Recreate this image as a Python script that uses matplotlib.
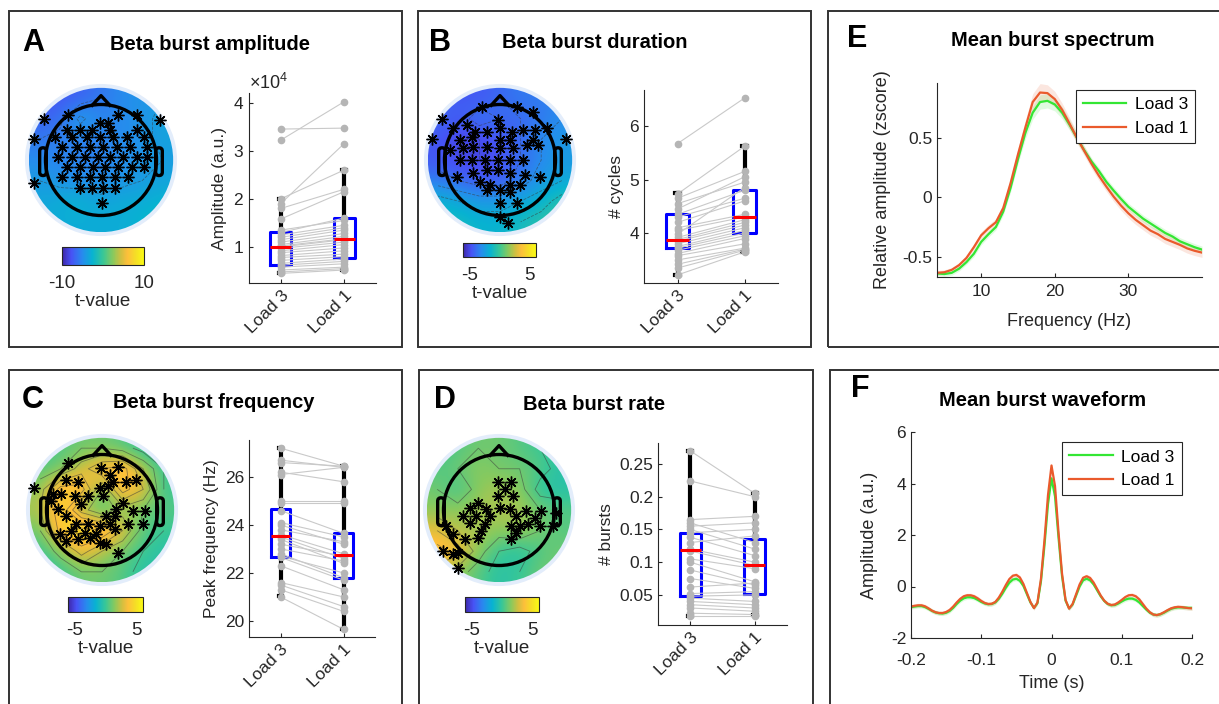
import numpy as np
import matplotlib
matplotlib.use('Agg')
import matplotlib.pyplot as plt
from matplotlib.colors import LinearSegmentedColormap, Normalize
from matplotlib.cm import ScalarMappable
from matplotlib.patches import Circle, Rectangle, FancyBboxPatch
from matplotlib.ticker import FuncFormatter

plt.rcParams['font.family'] = ['Liberation Sans', 'DejaVu Sans']
plt.rcParams['axes.unicode_minus'] = False
plt.rcParams['mathtext.fontset'] = 'custom'
plt.rcParams['mathtext.rm'] = 'Liberation Sans'

W, H = 1219, 704
DARK = '#262626'
GREEN = '#33e633'
ORANGE = '#ea5a2c'

parula = LinearSegmentedColormap.from_list('parula', [
    (0.00, (0.24, 0.15, 0.66)), (0.11, (0.28, 0.32, 0.96)), (0.25, (0.15, 0.55, 0.93)),
    (0.37, (0.03, 0.70, 0.82)), (0.50, (0.22, 0.78, 0.59)), (0.62, (0.53, 0.79, 0.37)),
    (0.72, (0.82, 0.75, 0.25)), (0.80, (0.99, 0.75, 0.23)), (0.90, (0.96, 0.87, 0.15)),
    (1.00, (0.98, 0.98, 0.08))])

# ---------------- paired data (one value per subject) ----------------
amp_load3 = [3.45, 3.22, 2.00, 1.90, 1.80, 1.58, 1.35, 1.30, 1.25, 1.20, 1.15, 1.10, 1.05, 1.02,
             1.00, 0.97, 0.92, 0.88, 0.82, 0.78, 0.72, 0.66, 0.62, 0.58, 0.52, 0.48, 0.45]
amp_load1 = [3.47, 4.02, 2.60, 3.15, 2.20, 2.15, 1.55, 1.60, 1.45, 1.40, 1.35, 1.28, 1.22, 1.17,
             1.15, 1.10, 1.05, 0.98, 0.92, 0.85, 0.80, 0.75, 0.70, 0.65, 0.58, 0.55, 0.52]
amp_box3 = [0.45, 0.62, 1.00, 1.32, 2.00]   # whislo, q1, median, q3, whishi (x1e4)
amp_box1 = [0.52, 0.78, 1.17, 1.60, 2.60]

dur_load3 = [5.67, 4.73, 4.65, 4.55, 4.45, 4.35, 4.30, 4.20, 4.10, 4.05, 3.98, 3.92,
             3.88, 3.85, 3.80, 3.75, 3.72, 3.68, 3.62, 3.58, 3.50, 3.42, 3.35, 3.22]
dur_load1 = [6.52, 5.62, 5.15, 4.95, 5.05, 4.80, 4.65, 4.60, 4.35, 4.30, 4.85, 4.25,
             4.20, 4.15, 4.10, 4.05, 4.00, 3.95, 3.90, 3.80, 3.72, 3.70, 3.68, 3.65]
dur_box3 = [3.22, 3.73, 3.88, 4.36, 4.74]
dur_box1 = [3.64, 4.00, 4.30, 4.81, 5.62]

freq_load3 = [27.2, 26.7, 26.6, 26.2, 26.1, 25.0, 24.9, 24.6, 24.1, 24.0, 23.8, 23.6,
              23.5, 23.4, 23.2, 23.0, 22.8, 22.7, 22.65, 22.3, 21.6, 21.5, 21.3, 21.0]
freq_load1 = [26.45, 26.4, 26.45, 25.8, 26.4, 25.0, 24.9, 23.65, 23.5, 23.2, 23.3, 22.8,
              22.6, 22.4, 22.7, 22.5, 21.8, 22.0, 21.7, 21.3, 21.0, 20.6, 20.4, 19.65]
freq_box3 = [21.05, 22.68, 23.52, 24.65, 27.2]
freq_box1 = [19.68, 21.8, 22.75, 23.66, 26.45]

rate_load3 = [0.270, 0.224, 0.165, 0.160, 0.155, 0.150, 0.145, 0.138, 0.130, 0.120, 0.117, 0.105,
              0.100, 0.088, 0.075, 0.062, 0.052, 0.048, 0.045, 0.040, 0.035, 0.030, 0.022, 0.018]
rate_load1 = [0.205, 0.200, 0.170, 0.130, 0.160, 0.120, 0.150, 0.110, 0.140, 0.100, 0.095, 0.090,
              0.070, 0.065, 0.060, 0.068, 0.055, 0.050, 0.040, 0.035, 0.030, 0.025, 0.020, 0.018]
rate_box3 = [0.017, 0.048, 0.118, 0.144, 0.270]
rate_box1 = [0.019, 0.051, 0.096, 0.136, 0.206]

conditions = ['Load 3', 'Load 1']

# ---------------- spectra ----------------
spec_freqs = np.arange(4, 41)
spec_load3 = [-0.64, -0.645, -0.635, -0.60, -0.545, -0.475, -0.375, -0.31, -0.25, -0.12,
              0.08, 0.32, 0.54, 0.71, 0.80, 0.81, 0.78, 0.71, 0.61, 0.50,
              0.395, 0.30, 0.22, 0.13, 0.056, -0.014, -0.08, -0.13, -0.18, -0.22,
              -0.26, -0.30, -0.33, -0.37, -0.395, -0.42, -0.44]
spec_load1 = [-0.635, -0.63, -0.61, -0.57, -0.51, -0.42, -0.32, -0.26, -0.21, -0.09,
              0.12, 0.36, 0.585, 0.80, 0.88, 0.875, 0.825, 0.735, 0.62, 0.50,
              0.39, 0.28, 0.18, 0.09, 0.005, -0.07, -0.135, -0.19, -0.235, -0.28,
              -0.31, -0.35, -0.375, -0.40, -0.43, -0.45, -0.465]
spec_sem3 = [0.02, 0.02, 0.02, 0.02, 0.02, 0.025, 0.025, 0.025, 0.025, 0.03,
             0.035, 0.04, 0.05, 0.055, 0.06, 0.06, 0.055, 0.05, 0.045, 0.04,
             0.035, 0.03, 0.03, 0.03, 0.03, 0.03, 0.03, 0.03, 0.03, 0.03,
             0.03, 0.03, 0.03, 0.03, 0.03, 0.03, 0.03]
spec_sem1 = [0.02, 0.02, 0.02, 0.02, 0.025, 0.025, 0.03, 0.03, 0.03, 0.035,
             0.04, 0.05, 0.06, 0.07, 0.075, 0.07, 0.065, 0.055, 0.05, 0.045,
             0.04, 0.04, 0.04, 0.04, 0.04, 0.04, 0.04, 0.04, 0.04, 0.04,
             0.04, 0.04, 0.04, 0.04, 0.04, 0.04, 0.04]

# ---------------- waveforms ----------------
wave_times = np.round(np.arange(-0.2, 0.2001, 0.005), 3)
wave_load3 = [-0.80, -0.78, -0.76, -0.76, -0.80, -0.87, -0.95, -1.01, -1.04, -1.05,
              -1.02, -0.95, -0.83, -0.68, -0.55, -0.46, -0.42, -0.42, -0.45, -0.52,
              -0.60, -0.66, -0.69, -0.68, -0.62, -0.48, -0.28, -0.05, 0.15, 0.27,
              0.30, 0.22, 0.02, -0.30, -0.62, -0.83, -0.65, 0.20, 1.60, 3.20,
              4.20, 3.50, 1.90, 0.40, -0.55, -0.85, -0.70, -0.35, 0.00, 0.24,
              0.30, 0.24, 0.08, -0.15, -0.38, -0.56, -0.68, -0.73, -0.72, -0.66,
              -0.58, -0.51, -0.47, -0.47, -0.52, -0.62, -0.76, -0.90, -1.02, -1.09,
              -1.11, -1.08, -1.02, -0.94, -0.87, -0.83, -0.81, -0.81, -0.82, -0.83,
              -0.83]
wave_load1 = [-0.78, -0.75, -0.73, -0.73, -0.77, -0.85, -0.94, -1.00, -1.03, -1.03,
              -0.99, -0.91, -0.78, -0.62, -0.48, -0.38, -0.34, -0.34, -0.38, -0.46,
              -0.56, -0.64, -0.68, -0.67, -0.60, -0.43, -0.20, 0.06, 0.29, 0.42,
              0.45, 0.35, 0.10, -0.25, -0.60, -0.84, -0.62, 0.30, 1.80, 3.55,
              4.70, 3.90, 2.10, 0.50, -0.52, -0.86, -0.68, -0.30, 0.08, 0.34,
              0.40, 0.33, 0.15, -0.10, -0.35, -0.55, -0.67, -0.72, -0.70, -0.62,
              -0.52, -0.41, -0.34, -0.33, -0.38, -0.50, -0.68, -0.86, -1.00, -1.09,
              -1.11, -1.07, -1.00, -0.92, -0.85, -0.81, -0.79, -0.80, -0.82, -0.84,
              -0.85]
wave_sem = 0.08

# ---------------- topographies (t-values, coarse grid, front row first) ----------------
topo_amp = [[-7.5, -7.5, -7, -6, -5, -4.5, -4],
            [-7, -6.5, -3.5, -5.5, -5, -4.5, -3.5],
            [-6, -5.5, -5.5, -5.5, -5, -4.5, -3.5],
            [-5, -5.5, -5.5, -5.5, -5, -4.5, -4],
            [-4, -4.5, -5, -5, -4.5, -4, -3.5],
            [-3.5, -3, -2.5, -3.5, -3, -3, -2.5],
            [-3, -3, -3, -3, -3, -2.5, -1.5]]
topo_dur = [[-4, -4.5, -4.5, -4, -3.5, -3.5, -3],
            [-4, -4.5, -3.5, -4, -4, -3.5, -3],
            [-4.5, -5, -5, -4.5, -4, -3, -2.5],
            [-4.5, -5, -5, -4.5, -4, -3, -2.5],
            [-3.5, -4, -4.5, -4.5, -3.5, -2.5, -2],
            [-1.5, -2, -2.5, -2.5, -2, -1.5, -0.5],
            [-1, -1, -1.5, -1.5, -1, -0.5, 0]]
topo_freq = [[0, 0.5, 1, 1, 0.5, -0.5, -1],
             [0.5, 1, 2.5, 4, 4.5, 2, 0],
             [1.5, 4.5, 4.5, 1, 4.5, 3, 0],
             [2, 5, 1.5, 0, 1.5, 1, 0.5],
             [1, 4.5, 5.5, 5, 3, 0.5, 0],
             [0, 1.5, 3.5, 2, 1, 0, -0.5],
             [-0.5, 0, 1, 1, 0.5, -0.5, -0.5]]
topo_rate = [[0, 0.5, 1, 1, 0.5, 0, -0.5],
             [0.5, 1, 1.5, 1, 1, 0.5, -0.5],
             [1, 0, 1.5, 2, 1.5, -0.5, -0.5],
             [1.5, 1.5, 2, 2, 2, 1, 0.5],
             [3, 2, 2, 1.5, 2, 1, 0.5],
             [4.5, 3.5, 1.5, 0, -0.5, 0.5, 1],
             [2, 1.5, 0.5, -0.5, 0, 1, 1]]

# significant electrodes (head radius = 1, nose up)
sig_amp_x = [-1.02, -1.20, -1.20, 1.07, -0.59, 0.31, 0.64, -0.02, 0.13, -0.62, -0.38, -0.17, 0.16, 0.64,
             -0.83, -0.53, -0.26, -0.02, 0.22, 0.46, 0.77, -0.71, -0.44, -0.20, 0.04, 0.28, 0.52, 0.83,
             -0.77, -0.53, -0.29, -0.05, 0.16, 0.40, 0.64, 0.83, -0.62, -0.38, -0.14, 0.07, 0.31, 0.55,
             0.77, -0.71, -0.44, -0.20, 0.01, 0.25, 0.49, -0.38, -0.17, 0.04, 0.25, 0.01]
sig_amp_y = [0.73, 0.38, -0.42, 0.72, 0.81, 0.81, 0.81, 0.66, 0.66, 0.54, 0.54, 0.54, 0.54, 0.54,
             0.42, 0.42, 0.42, 0.42, 0.42, 0.42, 0.42, 0.24, 0.24, 0.24, 0.24, 0.24, 0.24, 0.24,
             0.06, 0.06, 0.06, 0.06, 0.06, 0.06, 0.06, 0.06, -0.12, -0.12, -0.12, -0.12, -0.12, -0.12,
             -0.12, -0.30, -0.30, -0.30, -0.30, -0.30, -0.30, -0.51, -0.51, -0.51, -0.51, -0.78]
sig_dur_x = [-1.04, -1.23, 1.19, -0.33, 0.30, 0.60, -0.03, -0.84, -0.60, -0.45, -0.24, 0.00, 0.21, 0.42,
             0.63, 0.84, -0.72, -0.51, 0.00, 0.18, 0.60, -0.90, -0.66, -0.48, -0.24, 0.00, 0.24, 0.48,
             0.69, -0.72, -0.51, -0.27, -0.03, 0.18, 0.42, -0.78, -0.48, -0.24, -0.03, 0.18, 0.45, 0.72,
             -0.36, -0.18, 0.18, 0.36, -0.24, 0.00, 0.18, 0.00, 0.30, 0.00, 0.15]
sig_dur_y = [0.73, 0.38, 0.38, 0.96, 0.96, 0.87, 0.72, 0.57, 0.63, 0.51, 0.51, 0.57, 0.51, 0.54,
             0.54, 0.57, 0.36, 0.42, 0.36, 0.36, 0.36, 0.18, 0.21, 0.24, 0.24, 0.21, 0.21, 0.27,
             0.27, 0.00, 0.00, 0.00, 0.00, 0.00, 0.00, -0.30, -0.24, -0.18, -0.18, -0.24, -0.27, -0.30,
             -0.39, -0.45, -0.45, -0.45, -0.54, -0.54, -0.57, -0.78, -0.78, -1.02, -1.14]
sig_freq_x = [-1.22, -0.61, -0.01, 0.29, -0.64, -0.43, 0.14, 0.44, 0.62, -0.04, 0.11, 0.20, -0.88, -0.73,
              -0.49, -0.25, 0.02, 0.38, -0.91, -0.79, -0.37, 0.56, 0.77, -0.64, 0.26, 0.08, 0.23, -0.46,
              -0.25, -0.04, 0.14, 0.47, 0.74, -0.76, -0.55, -0.31, -0.10, 0.23, -0.64, -0.43, -0.22, -0.04,
              0.08, 0.29]
sig_freq_y = [0.40, 0.84, 0.75, 0.77, 0.54, 0.51, 0.63, 0.51, 0.54, 0.40, 0.43, 0.51, 0.28, 0.28,
              0.25, 0.25, 0.25, 0.13, 0.16, 0.01, 0.10, -0.02, -0.02, -0.11, 0.01, -0.11, -0.11, -0.26,
              -0.26, -0.29, -0.26, -0.26, -0.26, -0.44, -0.38, -0.41, -0.44, -0.35, -0.56, -0.53, -0.50, -0.59,
              -0.62, -0.77]
sig_rate_x = [-0.02, 0.22, 0.10, -0.02, 0.25, -0.38, -0.53, -0.23, -0.65, -0.41, -0.17, -0.53, -0.26, 0.01,
              0.19, 0.31, 0.49, 0.76, 1.03, 0.64, -0.32, -0.38, 0.22, 0.37, 0.52, 0.73, 0.97, 0.31,
              0.22, -0.95, -0.83, -0.62, -1.01, -0.83, -0.74, -0.74]
sig_rate_y = [0.51, 0.51, 0.37, 0.25, 0.25, 0.13, 0.04, 0.01, -0.11, -0.11, -0.11, -0.23, -0.26, 0.04,
              0.01, -0.11, -0.02, -0.02, -0.05, -0.14, -0.38, -0.50, -0.29, -0.29, -0.26, -0.29, -0.29, -0.41,
              -0.53, -0.29, -0.44, -0.53, -0.74, -0.80, -0.77, -1.04]


def px_axes(fig, x0, y0, x1, y1):
    return fig.add_axes([x0 / W, 1 - y1 / H, (x1 - x0) / W, (y1 - y0) / H])


def fig_text(fig, x, y, s, **kw):
    fig.text(x / W, 1 - y / H, s, ha='center', va='center', **kw)


def style_axes(ax):
    for side in ('top', 'right'):
        ax.spines[side].set_visible(False)
    for side in ('left', 'bottom'):
        ax.spines[side].set_color(DARK)
        ax.spines[side].set_linewidth(0.8)
    ax.tick_params(direction='in', length=3, width=0.8, colors=DARK, labelsize=12.5)


def draw_topo(fig, cx, cy, grid, vmin, vmax, step, sx, sy, cbar_box, cbar_ticks):
    r_px = 55.5
    ax = px_axes(fig, cx - 1.4 * r_px, cy - 1.4 * r_px, cx + 1.4 * r_px, cy + 1.4 * r_px)
    ax.set_xlim(-1.4, 1.4)
    ax.set_ylim(-1.4, 1.4)
    ax.set_aspect('equal')
    ax.axis('off')
    grid = np.array(grid, dtype=float)
    ax.add_patch(Circle((0, 0), 1.37, fc='#e3edfb', ec='none', zorder=0))
    disk = Circle((0, 0), 1.3, transform=ax.transData)
    im = ax.imshow(grid, extent=(-1.3, 1.3, -1.3, 1.3), origin='upper', cmap=parula,
                   vmin=vmin, vmax=vmax, interpolation='bicubic', zorder=1)
    im.set_clip_path(disk)
    n = grid.shape[0]
    centres = -1.3 + (np.arange(n) + 0.5) * 2.6 / n
    cs = ax.contour(centres, centres, np.flipud(grid), levels=np.arange(vmin, vmax, step),
                    colors='#3a3a3a', linewidths=0.6, alpha=0.55, zorder=2)
    cs.set_clip_path(disk)
    ax.add_patch(Circle((0, 0), 1.0, fc='none', ec='k', lw=2.4, zorder=3))
    ax.plot([-0.16, 0, 0.16], [0.985, 1.16, 0.985], color='k', lw=2.4, zorder=3)
    for side in (-1, 1):
        x0 = 0.985 if side > 0 else -1.105
        ax.add_patch(FancyBboxPatch((x0, -0.28), 0.12, 0.5,
                                    boxstyle='round,pad=0,rounding_size=0.06',
                                    fc='none', ec='k', lw=2.4, zorder=3))
    ax.plot(sx, sy, ls='none', marker=(8, 2, 0), ms=8.5, mew=1.0, color='k', zorder=4)

    cax = px_axes(fig, *cbar_box)
    cb = fig.colorbar(ScalarMappable(Normalize(vmin, vmax), parula), cax=cax,
                      orientation='horizontal', ticks=cbar_ticks)
    cb.outline.set_linewidth(0.8)
    cb.outline.set_edgecolor(DARK)
    cax.tick_params(length=0, pad=7, labelsize=13.5, colors=DARK)
    cb.set_label('t-value', fontsize=13.5, color=DARK, labelpad=1)


def draw_paired(fig, box, load3, load1, stats3, stats1, ylim, yticks, ylabel, width=0.33):
    ax = px_axes(fig, *box)
    stats = [dict(whislo=s[0], q1=s[1], med=s[2], q3=s[3], whishi=s[4], fliers=[])
             for s in (stats3, stats1)]
    ax.bxp(stats, positions=[1, 2], widths=width, showfliers=False, capwidths=0.06,
           boxprops=dict(color='#0000ff', lw=2.2),
           whiskerprops=dict(color='k', lw=3),
           capprops=dict(color='k', lw=3),
           medianprops=dict(color='#ff0000', lw=2.2, zorder=6))
    for a, b in zip(load3, load1):
        ax.plot([1, 2], [a, b], color='#c9c9c9', lw=0.8, zorder=3)
    ax.plot(np.ones(len(load3)), load3, 'o', color='#b5b5b5', ms=4.5, zorder=4)
    ax.plot(np.full(len(load1), 2), load1, 'o', color='#b5b5b5', ms=4.5, zorder=4)
    ax.set_xlim(0.5, 2.5)
    ax.set_ylim(*ylim)
    ax.set_yticks(yticks)
    ax.set_xticks([1, 2])
    ax.set_xticklabels(conditions, rotation=45, ha='right', rotation_mode='anchor')
    ax.set_ylabel(ylabel, fontsize=12.5, color=DARK)
    style_axes(ax)
    return ax


fig = plt.figure(figsize=(W / 100, H / 100), dpi=100)

# panel frames
for x0, y0, x1, y1 in [(9, 11, 402, 347), (418, 11, 811, 347), (828, 11, 1230, 347),
                       (9, 370, 402, 712), (419, 370, 813, 712), (830, 370, 1230, 712)]:
    fig.add_artist(Rectangle((x0 / W, 1 - y1 / H), (x1 - x0) / W, (y1 - y0) / H,
                             transform=fig.transFigure, fc='none', ec='#333333', lw=1.4,
                             clip_on=False))

# letters and titles
for x, y, s in [(33, 43, 'A'), (440, 43, 'B'), (33, 400, 'C'), (445, 400, 'D'),
                (857, 39, 'E'), (860, 389, 'F')]:
    fig_text(fig, x, y, s, fontsize=22, fontweight='bold')
for x, y, s in [(210, 45, 'Beta burst amplitude'), (595, 43, 'Beta burst duration'),
                (214, 403, 'Beta burst frequency'), (594, 404, 'Beta burst rate'),
                (1053, 40, 'Mean burst spectrum'), (1043, 401, 'Mean burst waveform')]:
    fig_text(fig, x, y, s, fontsize=14.5, fontweight='bold')

# topographies
draw_topo(fig, 101, 160, topo_amp, -10, 10, 2, sig_amp_x, sig_amp_y, (62, 247, 144, 265), [-10, 10])
draw_topo(fig, 500, 160, topo_dur, -6, 6, 1, sig_dur_x, sig_dur_y, (463, 243, 536, 257), [-5, 5])
draw_topo(fig, 102, 510, topo_freq, -6, 6, 1, sig_freq_x, sig_freq_y, (68, 597, 143, 612), [-5, 5])
draw_topo(fig, 499, 510, topo_rate, -6, 6, 1, sig_rate_x, sig_rate_y, (465, 597, 539, 612), [-5, 5])

# paired boxplots
ax_a = draw_paired(fig, (249, 93, 376, 283), np.array(amp_load3) * 1e4, np.array(amp_load1) * 1e4,
                   np.array(amp_box3) * 1e4, np.array(amp_box1) * 1e4, (0.25e4, 4.2e4),
                   [1e4, 2e4, 3e4, 4e4], 'Amplitude (a.u.)')
ax_a.ticklabel_format(axis='y', style='sci', scilimits=(4, 4), useMathText=True)
ax_a.yaxis.get_offset_text().set_fontsize(13)
ax_a.yaxis.get_offset_text().set_color(DARK)
draw_paired(fig, (644, 90, 778, 283), dur_load3, dur_load1, dur_box3, dur_box1, (3.07, 6.67),
            [4, 5, 6], '# cycles')
draw_paired(fig, (249, 440, 375, 637), freq_load3, freq_load1, freq_box3, freq_box1, (19.33, 27.54),
            [20, 22, 24, 26], 'Peak frequency (Hz)', width=0.31)
ax_d = draw_paired(fig, (658, 443, 787, 625), rate_load3, rate_load1, rate_box3, rate_box1,
                   (0.004, 0.282), [0.05, 0.1, 0.15, 0.2, 0.25], '# bursts')
ax_d.yaxis.set_major_formatter(FuncFormatter(lambda v, p: f'{v:g}'))

# spectrum
ax_e = px_axes(fig, 937, 83, 1202, 277)
for vals, sem, col, lab in [(spec_load3, spec_sem3, GREEN, 'Load 3'),
                            (spec_load1, spec_sem1, ORANGE, 'Load 1')]:
    vals = np.array(vals)
    sem = np.array(sem)
    ax_e.fill_between(spec_freqs, vals - sem, vals + sem, color=col, alpha=0.15, lw=0)
    ax_e.plot(spec_freqs, vals, color=col, lw=1.6, label=lab)
ax_e.set_xlim(4, 40)
ax_e.set_ylim(-0.67, 0.96)
ax_e.set_xticks([10, 20, 30])
ax_e.set_yticks([-0.5, 0, 0.5])
ax_e.yaxis.set_major_formatter(FuncFormatter(lambda v, p: f'{v:g}'))
ax_e.set_xlabel('Frequency (Hz)', fontsize=13, color=DARK, labelpad=10)
ax_e.set_ylabel('Relative amplitude (zscore)', fontsize=13, color=DARK, labelpad=8)
style_axes(ax_e)
ax_e.tick_params(axis='x', pad=5)
leg = ax_e.legend(loc='upper right', fontsize=12.5, fancybox=False, edgecolor=DARK,
                  handlelength=2.5, handletextpad=0.5, borderaxespad=0.4, framealpha=1)
leg.get_frame().set_linewidth(0.8)

# waveform
ax_f = px_axes(fig, 911, 432, 1192, 638)
for vals, col, lab in [(wave_load3, GREEN, 'Load 3'), (wave_load1, ORANGE, 'Load 1')]:
    vals = np.array(vals)
    ax_f.fill_between(wave_times, vals - wave_sem, vals + wave_sem, color=col, alpha=0.15, lw=0)
    ax_f.plot(wave_times, vals, color=col, lw=1.6, label=lab)
ax_f.set_xlim(-0.2, 0.2)
ax_f.set_ylim(-2, 6)
ax_f.set_xticks([-0.2, -0.1, 0, 0.1, 0.2])
ax_f.set_yticks([-2, 0, 2, 4, 6])
ax_f.xaxis.set_major_formatter(FuncFormatter(lambda v, p: f'{v:g}'))
ax_f.set_xlabel('Time (s)', fontsize=13, color=DARK, labelpad=5)
ax_f.set_ylabel('Amplitude (a.u.)', fontsize=13, color=DARK, labelpad=9)
style_axes(ax_f)
ax_f.tick_params(axis='x', pad=11)
leg = ax_f.legend(loc='upper right', fontsize=12.5, fancybox=False, edgecolor=DARK,
                  handlelength=2.5, handletextpad=0.5, borderaxespad=0.6, framealpha=1)
leg.get_frame().set_linewidth(0.8)

fig.savefig('out.png', dpi=100)
